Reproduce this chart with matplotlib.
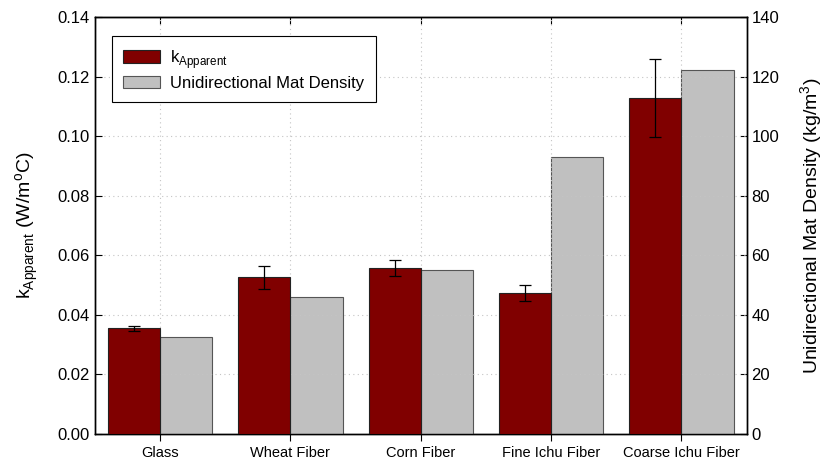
import numpy as np
import matplotlib
matplotlib.use("Agg")
import matplotlib.pyplot as plt

plt.rcParams["font.family"] = ["Liberation Sans", "DejaVu Sans"]

# fibre types and measured values
materials = ["Glass", "Wheat Fiber", "Corn Fiber", "Fine Ichu Fiber", "Coarse Ichu Fiber"]
k_apparent = [0.0355, 0.0526, 0.0556, 0.0474, 0.1130]
k_err = [0.0008, 0.0038, 0.0027, 0.0026, 0.0131]
mat_density = [32.7, 45.9, 55.1, 92.9, 122.3]

red = "#800000"
grey = "#c0c0c0"
width = 0.4

fig, ax = plt.subplots(figsize=(8.25, 4.69), dpi=100)
fig.subplots_adjust(left=0.115, right=0.905, top=0.963, bottom=0.075)
ax2 = ax.twinx()

x = np.arange(len(materials))
ax.bar(x - width / 2, k_apparent, width, color=red, edgecolor="#222222",
       linewidth=0.8, label="k$_{\\mathregular{Apparent}}$", zorder=3)
ax.errorbar(x - width / 2, k_apparent, yerr=k_err, fmt="none", ecolor="black",
            elinewidth=0.9, capsize=4.5, capthick=0.9, zorder=4)
ax2.bar(x + width / 2, mat_density, width, color=grey, edgecolor="#555555",
        linewidth=0.8, label="Unidirectional Mat Density", zorder=3)

ax.set_xlim(-0.5, len(materials) - 0.5)
ax.set_ylim(0, 0.14)
ax2.set_ylim(0, 140)
ax.set_yticks(np.arange(0, 0.141, 0.02))
ax2.set_yticks(np.arange(0, 141, 20))
ax.set_yticklabels([f"{v:.2f}" for v in np.arange(0, 0.141, 0.02)])
ax.set_xticks(x)
ax.set_xticklabels(materials, fontsize=10.5)

ax.grid(True, linestyle=(0, (1, 3)), color="#c4c4c4", linewidth=0.8, zorder=0)
ax.set_axisbelow(True)
ax2.set_zorder(ax.get_zorder() - 1)
ax.patch.set_visible(False)
ax2.patch.set_visible(True)

ax.tick_params(axis="y", direction="in", labelsize=12, length=5)
ax.tick_params(axis="x", direction="out", length=5)
ax2.tick_params(axis="y", direction="in", labelsize=12, length=5)
top = ax.secondary_xaxis("top")
top.set_xticks(x, labels=[])
top.tick_params(direction="in", length=5)

ax.set_ylabel("k$_{\\mathregular{Apparent}}$ (W/m$^{\\mathregular{o}}$C)", fontsize=14, labelpad=12)
ax2.set_ylabel("Unidirectional Mat Density (kg/m$^{\\mathregular{3}}$)", fontsize=14, labelpad=14)

# red bars live on ax, grey on ax2: one legend for both
h1, l1 = ax.get_legend_handles_labels()
h2, l2 = ax2.get_legend_handles_labels()
leg = ax.legend(h1 + h2, l1 + l2, loc="upper left", bbox_to_anchor=(0.013, 0.975),
                fontsize=12, fancybox=False, edgecolor="black", framealpha=1,
                handlelength=2.2, handleheight=0.8, handletextpad=0.6,
                borderpad=0.7, labelspacing=0.3)
leg.get_frame().set_linewidth(0.8)

for a in (ax, ax2):
    for s in a.spines.values():
        s.set_linewidth(1.0)

fig.savefig("out.png", dpi=100)
